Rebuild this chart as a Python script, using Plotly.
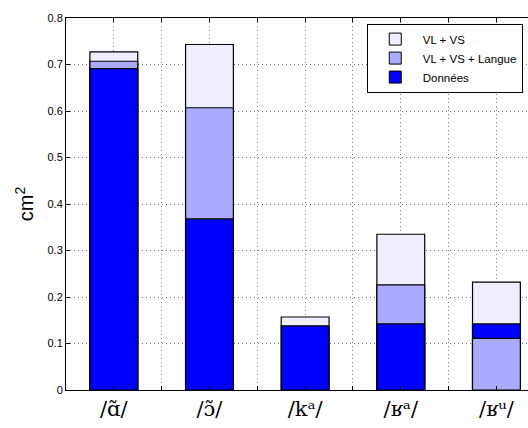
import plotly.graph_objects as go

categories = ["/ɑ̃/", "/ɔ̃/", "/kᵃ/", "/ʁᵃ/", "/ʁᵘ/"]
vl_vs = [0.727, 0.743, 0.157, 0.335, 0.232]
vl_vs_langue = [0.707, 0.607, None, 0.226, 0.111]
donnees = [0.691, 0.368, 0.138, 0.142, 0.142]

series_names = ["VL + VS", "VL + VS + Langue", "Données"]
series_values = [vl_vs, vl_vs_langue, donnees]
series_colors = ["#EEEEFF", "#AAAAFF", "#0000FF"]

xpos = list(range(1, len(categories) + 1))

fig = go.Figure()

n_series = len(series_names)
for rank in range(n_series):
    ys, cols = [], []
    for i in range(len(categories)):
        items = [(series_values[s][i], s) for s in range(n_series) if series_values[s][i] is not None]
        items.sort(key=lambda t: (-t[0], t[1]))
        if rank < len(items):
            ys.append(items[rank][0])
            cols.append(series_colors[items[rank][1]])
        else:
            ys.append(None)
            cols.append("rgba(0,0,0,0)")
    fig.add_trace(go.Bar(
        x=xpos, y=ys, width=0.5,
        marker=dict(color=cols, line=dict(color="black", width=1.2)),
        showlegend=False, hoverinfo="skip",
    ))

for name, col in zip(series_names, series_colors):
    fig.add_trace(go.Bar(
        x=[None], y=[None], name=name,
        marker=dict(color=col, line=dict(color="black", width=1)),
    ))

tickvals = []
ticktext = []
for i, c in enumerate(categories):
    tickvals.append(i + 1)
    ticktext.append(c)
    if i < len(categories) - 1:
        tickvals.append(i + 1.5)
        ticktext.append(" ")

fig.update_layout(
    width=528, height=428,
    margin=dict(l=66, r=0, t=18, b=38, autoexpand=False),
    barmode="overlay",
    plot_bgcolor="white", paper_bgcolor="white",
    font=dict(family="Liberation Sans, Arial, sans-serif", size=11, color="black"),
    legend=dict(
        x=0.651, y=0.985, xanchor="left", yanchor="top",
        bgcolor="white", bordercolor="black", borderwidth=1,
        font=dict(size=11.5), traceorder="normal",
        itemwidth=45, tracegroupgap=0,
    ),
    xaxis=dict(
        range=[0.5, 5.33], automargin=False,
        tickmode="array", tickvals=tickvals, ticktext=ticktext,
        tickfont=dict(family="DejaVu Serif, Liberation Serif, serif", size=21),
        showgrid=True, gridcolor="#777777", griddash="1px,3px", gridwidth=1,
        showline=True, linecolor="black", linewidth=1, mirror="ticks",
        ticks="inside", ticklen=4, tickcolor="black",
        zeroline=False,
    ),
    yaxis=dict(
        range=[0, 0.8], dtick=0.1, tick0=0, automargin=False,
        tickformat="~g",
        showgrid=True, gridcolor="#777777", griddash="1px,3px", gridwidth=1,
        showline=True, linecolor="black", linewidth=1, mirror=False,
        ticks="inside", ticklen=4, tickcolor="black",
        zeroline=False,
        title=dict(text="cm<sup>2</sup>", font=dict(size=20), standoff=8),
    ),
)

fig.write_html(
    "out.html",
    config={"displayModeBar": False},
    post_script=(
        "document.documentElement.style.overflow='hidden';"
        "document.body.style.margin='0';document.body.style.overflow='hidden';"
    ),
)
